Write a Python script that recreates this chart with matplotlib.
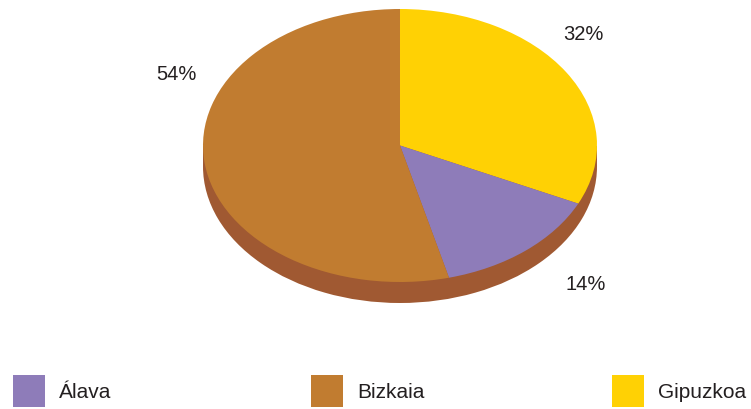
import matplotlib.pyplot as plt
from matplotlib.patches import Rectangle

plt.rcParams['font.family'] = ['Liberation Sans', 'DejaVu Sans']

# data (legend order)
provinces = ["Álava", "Bizkaia", "Gipuzkoa"]
shares = [14, 54, 32]
colors = ["#8E7CB9", "#C17C30", "#FFD104"]
side_color = "#A05932"
text_color = "#231F20"

# pie is drawn clockwise from 12 o'clock: Gipuzkoa, Álava, Bizkaia
pie_order = [2, 0, 1]

# layout in pixels of the 751x409 image
W, H = 751, 409
CX, CY = 400, 145.5
RX, RY = 197, 136.5
DEPTH = 21
label_px = {"Gipuzkoa": (583, 34), "Bizkaia": (176, 74), "Álava": (586, 285)}
legend_x = [13, 311, 612]
legend_top, legend_size = 375, 32


def px_to_data(x, y):
    return (x - CX) / RX, (CY - y) / RY


fig = plt.figure(figsize=(W / 100, H / 100), dpi=100)
ax = fig.add_axes([0, 0, 1, 1])

d = DEPTH / RY
# side of the disc
side, _ = ax.pie([1], colors=[side_color], center=(0, -d), startangle=90,
                 wedgeprops=dict(linewidth=0))
ax.add_patch(Rectangle((-1, -d), 2, d, facecolor=side_color, linewidth=0))

vals = [shares[i] for i in pie_order]
cols = [colors[i] for i in pie_order]
wedges, _ = ax.pie(vals, colors=cols, startangle=90, counterclock=False,
                   wedgeprops=dict(linewidth=0))
for w in wedges:
    w.set_zorder(3)

for name, val in zip(provinces, shares):
    x, y = px_to_data(*label_px[name])
    ax.text(x, y, f"{val}%", ha="center", va="center", fontsize=14.5,
            color=text_color, zorder=5)

ax.set_aspect("auto")
ax.set_xlim(-CX / RX, (W - CX) / RX)
ax.set_ylim((CY - H) / RY, CY / RY)
ax.axis("off")

# legend drawn by hand: square + label
for name, c, lx in zip(provinces, colors, legend_x):
    fig.add_artist(Rectangle((lx / W, 1 - (legend_top + legend_size) / H),
                             legend_size / W, legend_size / H,
                             transform=fig.transFigure, facecolor=c, linewidth=0))
    fig.text((lx + legend_size + 14) / W, 1 - (legend_top + legend_size / 2 + 1) / H,
             name, ha="left", va="center", fontsize=15, color=text_color)

fig.savefig("out.png", dpi=100)
